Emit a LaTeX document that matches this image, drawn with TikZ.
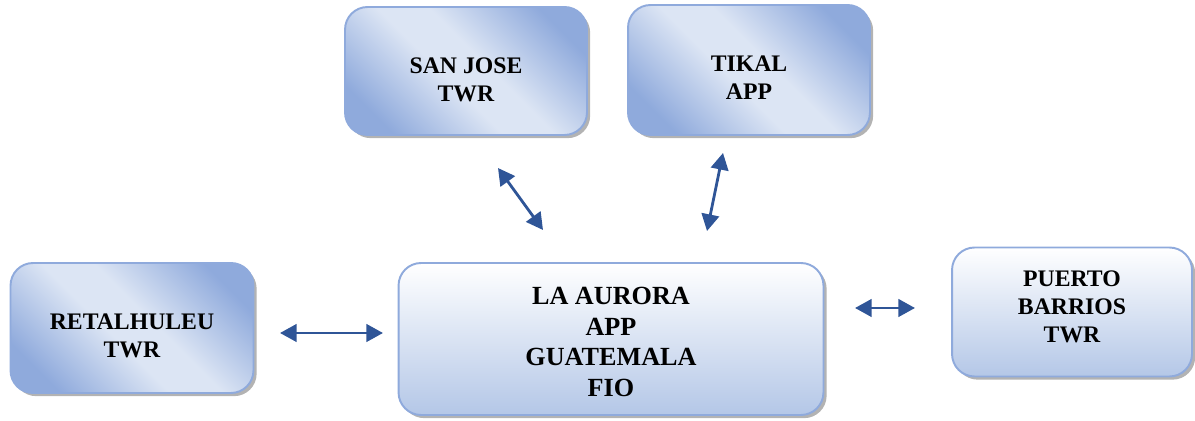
\documentclass[tikz,border=0pt]{standalone}
\usepackage{fontspec}
\setmainfont{Liberation Serif}
\usetikzlibrary{arrows.meta,shadows}
\definecolor{bdark}{RGB}{143,170,220}
\definecolor{blight}{RGB}{220,229,244}
\definecolor{bbottom}{RGB}{180,199,231}
\definecolor{bline}{RGB}{143,170,220}
\definecolor{arrowblue}{RGB}{47,85,151}
\pgfdeclarehorizontalshading{diagblue}{100bp}{color(0bp)=(bdark); color(24bp)=(bdark); color(45bp)=(blight); color(55bp)=(blight); color(76bp)=(bdark); color(100bp)=(bdark)}
\tikzset{
  box/.style={draw=bline, line width=1.1pt, rounded corners=0.45cm,
    drop shadow={shadow xshift=1.8pt, shadow yshift=-1.8pt, fill=black!50, opacity=.6}},
  diagbox/.style={box, shade, shading=diagblue, shading angle=45},
  vertbox/.style={box, top color=white, bottom color=bbottom},
  lbl/.style={align=center, font=\fontsize{13.5}{16}\selectfont\bfseries},
  biglbl/.style={lbl, font=\fontsize{14.9}{17.4}\selectfont\bfseries},
  link/.style={arrowblue, line width=1.6pt, {Triangle[length=9.5pt,width=10pt]}-{Triangle[length=9.5pt,width=10pt]}}
}
\begin{document}
\begin{tikzpicture}[x=0.02cm, y=-0.02cm]
\useasboundingbox (0,0) rectangle (1195,421);
% boxes
\node[diagbox, minimum width=4.84cm, minimum height=2.56cm] (sanjose) at (466,71) {};
\node[diagbox, minimum width=4.84cm, minimum height=2.6cm] (tikal) at (749,70) {};
\node[diagbox, minimum width=4.86cm, minimum height=2.6cm] (retal) at (132,328) {};
\node[vertbox, minimum width=8.5cm, minimum height=3.04cm] (aurora) at (611,339) {};
\node[vertbox, minimum width=4.8cm, minimum height=2.58cm] (puerto) at (1072,312) {};

% texts
\node[lbl] (sanjose-t) at ([yshift=-0.18cm]sanjose.center) {SAN JOSE\\TWR};
\node[lbl] (tikal-t) at ([yshift=-0.16cm]tikal.center) {TIKAL\\APP};
\node[lbl] (retal-t) at ([yshift=-0.16cm]retal.center) {RETALHULEU\\TWR};
\node[biglbl] (aurora-t) at ([yshift=-0.06cm]aurora.center) {LA AURORA\\APP\\GUATEMALA\\FIO};
\node[lbl] (puerto-t) at ([yshift=0.1cm]puerto.center) {PUERTO\\BARRIOS\\TWR};

% arrows
\coordinate (sj-a) at (498,168);
\coordinate (sj-b) at (543,230);
\coordinate (tk-a) at (723,153);
\coordinate (tk-b) at (707,231);
\coordinate (rt-a) at (280,333);
\coordinate (rt-b) at (383,333);
\coordinate (pb-a) at (855,308);
\coordinate (pb-b) at (915,308);
\draw[link] (sj-a) -- (sj-b);
\draw[link] (tk-a) -- (tk-b);
\draw[link] (rt-a) -- (rt-b);
\draw[link] (pb-a) -- (pb-b);
\end{tikzpicture}
\end{document}
